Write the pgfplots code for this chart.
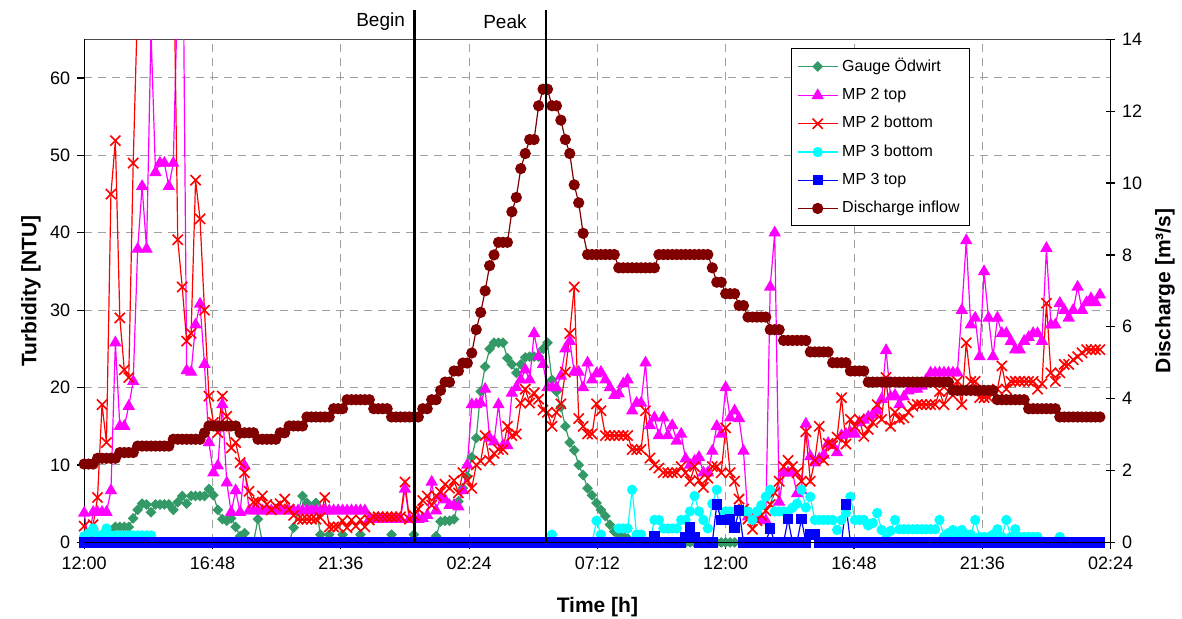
\documentclass[border=0pt]{standalone}
\usepackage{fontspec}
\setmainfont{Liberation Sans}
\usepackage{pgfplots}
\usepackage{pgfplotstable}
\pgfplotsset{compat=1.18}
\definecolor{cGauge}{RGB}{51,153,102}
\definecolor{cMag}{RGB}{255,0,255}
\definecolor{cRed}{RGB}{255,0,0}
\definecolor{cCyan}{RGB}{0,255,255}
\definecolor{cBlue}{RGB}{0,0,255}
\definecolor{cMaroon}{RGB}{128,0,0}
\pgfplotsset{
 sG/.style={color=cGauge, line width=0.6pt, mark=square*, mark size=1.6pt, mark options={rotate=45, solid, fill=cGauge}},
 sT2/.style={color=cMag, line width=0.6pt, mark=triangle*, mark size=3pt, mark options={solid, fill=cMag}},
 sB2/.style={color=cRed, line width=0.6pt, mark=x, mark size=3.6pt, mark options={solid, line width=0.8pt}},
 sB3/.style={color=cCyan, line width=0.6pt, mark=*, mark size=2.25pt, mark options={solid, fill=cCyan}},
 sT3/.style={color=cBlue, line width=0.6pt, mark=square*, mark size=2.3pt, mark options={solid, fill=cBlue}},
 sQ/.style={color=cMaroon, line width=0.6pt, mark=*, mark size=2.5pt, mark options={solid, fill=cMaroon}},
}
% one value every 10 minutes, starting 12:00 (x = index/6 hours)
\pgfplotstableread[header=false,row sep=\\]{
2.18\\2.18\\2.18\\2.34\\2.34\\2.34\\2.34\\2.34\\2.50\\2.50\\
2.50\\2.50\\2.68\\2.68\\2.68\\2.68\\2.68\\2.68\\2.68\\2.68\\
2.87\\2.87\\2.87\\2.87\\2.87\\2.87\\2.87\\3.05\\3.24\\3.24\\
3.24\\3.24\\3.24\\3.24\\3.24\\3.05\\3.05\\3.05\\3.05\\2.87\\
2.87\\2.87\\2.87\\2.87\\3.05\\3.05\\3.24\\3.24\\3.24\\3.24\\
3.49\\3.49\\3.49\\3.49\\3.49\\3.49\\3.72\\3.72\\3.72\\3.97\\
3.97\\3.97\\3.97\\3.97\\3.97\\3.72\\3.72\\3.72\\3.72\\3.49\\
3.49\\3.49\\3.49\\3.49\\3.49\\3.49\\3.72\\3.72\\3.97\\3.97\\
4.23\\4.46\\4.46\\4.77\\4.77\\4.99\\4.99\\5.27\\5.92\\6.4\\
7.0\\7.7\\8.0\\8.35\\8.35\\8.35\\9.2\\9.6\\10.4\\10.82\\
11.21\\11.21\\12.15\\12.61\\12.61\\12.15\\12.15\\11.75\\11.21\\10.82\\
9.95\\9.45\\8.6\\8.01\\8.01\\8.01\\8.01\\8.01\\8.01\\8.01\\
7.64\\7.64\\7.64\\7.64\\7.64\\7.64\\7.64\\7.64\\7.64\\8.01\\
8.01\\8.01\\8.01\\8.01\\8.01\\8.01\\8.01\\8.01\\8.01\\8.01\\
8.01\\7.64\\7.24\\7.24\\6.92\\6.92\\6.92\\6.59\\6.59\\6.27\\
6.27\\6.27\\6.27\\6.27\\5.92\\5.92\\5.92\\5.62\\5.62\\5.62\\
5.62\\5.62\\5.62\\5.30\\5.30\\5.30\\5.30\\5.30\\5.00\\5.00\\
5.00\\5.00\\4.77\\4.77\\4.77\\4.77\\4.46\\4.46\\4.46\\4.46\\
4.46\\4.46\\4.46\\4.46\\4.46\\4.46\\4.46\\4.46\\4.46\\4.46\\
4.46\\4.46\\4.46\\4.46\\4.46\\4.23\\4.23\\4.23\\4.23\\4.23\\
4.23\\4.23\\4.23\\4.23\\4.23\\3.97\\3.97\\3.97\\3.97\\3.97\\
3.97\\3.97\\3.72\\3.72\\3.72\\3.72\\3.72\\3.72\\3.72\\3.49\\
3.49\\3.49\\3.49\\3.49\\3.49\\3.49\\3.49\\3.49\\3.49\\
}\tQ
\pgfplotstableread[header=false,row sep=\\]{
0\\0\\0\\0\\0\\0.5\\1.5\\2.0\\2.0\\2.0\\
2.0\\3.1\\4.2\\5.0\\4.9\\3.9\\4.9\\4.9\\4.9\\4.9\\
4.2\\5.2\\6.0\\5.0\\6.0\\6.0\\6.0\\6.0\\6.9\\6.1\\
4.2\\3.0\\2.8\\3.1\\2.0\\0.8\\1.2\\0\\0\\3.0\\
0\\0\\0\\0\\0\\0\\0\\1.9\\4.0\\6.0\\
5.1\\4.2\\5.1\\1.0\\0\\1.0\\0\\0\\1.0\\0\\
0\\0\\1.0\\0\\0\\0\\0\\0\\0\\1.0\\
0\\0\\0\\0\\1.0\\0\\0\\0\\0\\0.8\\
2.7\\2.8\\2.8\\3.0\\5.3\\7.0\\8.5\\11.0\\13.5\\19.5\\
22.7\\25.0\\25.8\\25.8\\25.8\\23.8\\23.0\\21.9\\23.0\\23.9\\
24.0\\24.0\\24.0\\25.0\\25.8\\21.0\\19.5\\17.5\\15.0\\12.9\\
11.9\\10.0\\8.7\\7.0\\6.1\\5.1\\4.2\\3.4\\2.3\\1.4\\
1.0\\0.8\\0.5\\0\\0\\0\\0\\0\\0\\0\\
0\\0\\0\\0\\0\\0\\0\\0\\0\\0\\
0\\0\\0\\0\\0\\0\\0\\
}\tG
\pgfplotstableread[header=false,row sep=\\]{
3.8\\0\\3.9\\3.9\\3.9\\3.9\\6.7\\25.8\\15\\15\\
17.6\\20.8\\37.9\\46\\37.9\\66\\47.8\\49\\49\\46\\
49\\72\\90\\22.2\\22.0\\28.1\\30.8\\23\\12.9\\9.0\\
9.9\\17.8\\7.7\\3.9\\6.7\\3.9\\9.9\\4.1\\4.1\\4.1\\
4.1\\4.1\\4.1\\4.1\\4.1\\4.1\\4.1\\4.1\\4.1\\4.1\\
4.1\\4.1\\4.1\\4.1\\4.1\\4.1\\4.1\\4.1\\4.1\\4.1\\
4.1\\4.1\\4.1\\4.1\\3.0\\3.0\\3.0\\3.0\\3.0\\3.0\\
3.0\\3.0\\6.9\\3.0\\3.0\\3.0\\3.1\\3.5\\7.8\\4.1\\
6.0\\5.5\\4.8\\4.8\\4.6\\6.7\\10.0\\17.8\\17.8\\18.0\\
19.8\\13.5\\13.0\\17.8\\12.5\\12.5\\19.3\\20.0\\21.0\\22.3\\
21.0\\27.0\\24.0\\23.0\\20.0\\20.0\\20.0\\21.5\\25.0\\26.0\\
22.0\\22.0\\20.0\\23.2\\21.0\\21.8\\22.0\\21.0\\20.0\\19.0\\
19.2\\20.5\\21.0\\17.0\\18.0\\18.0\\23.2\\15.1\\16.1\\13.8\\
16.1\\13.8\\15.1\\13.1\\14.0\\10.8\\10.0\\10.5\\11.0\\9.0\\
9.0\\11.8\\15.0\\14.0\\20.0\\16.1\\17.0\\16.0\\11.8\\3.3\\
3.3\\3.3\\3.0\\2.8\\33.0\\40.0\\5.2\\9.0\\9.0\\9.0\\
6.3\\6.7\\15.3\\11.1\\10.3\\10.8\\11.3\\12.8\\12.5\\11.6\\
13.8\\14.0\\14.2\\14.0\\15.5\\15.8\\16.2\\16.5\\17.0\\18.5\\
24.8\\18.8\\19.0\\17.8\\18.8\\19.6\\19.8\\19.8\\20.2\\21.0\\
21.9\\21.9\\21.9\\21.9\\21.9\\21.9\\21.9\\30\\39\\28.1\\
29\\24\\35\\29\\24\\29\\27\\27\\26\\24.9\\
24.9\\26\\26.5\\27\\27\\26\\38\\28.1\\28.1\\30.9\\
30\\29\\30\\33\\30\\31\\31.5\\31\\32\\
}\tTtwo
\pgfplotstableread[header=false,row sep=\\]{
2.1\\0.2\\2.3\\5.8\\17.8\\12.9\\45\\51.9\\29\\22.3\\
21.3\\49\\70\\100\\100\\100\\100\\100\\100\\100\\
80\\39.1\\33.0\\26.0\\27.0\\46.8\\41.8\\30.0\\18.9\\15.5\\
14.2\\18.9\\16.3\\12.2\\12.9\\10.3\\9.0\\6.6\\5.2\\5.2\\
6.0\\4.9\\4.2\\4.7\\5.0\\5.6\\4.3\\3.5\\3.0\\3.0\\
3.0\\3.0\\3.0\\3.2\\5.8\\2.0\\2.0\\2.0\\2.8\\1.9\\
2.9\\2.1\\2.9\\2.0\\2.9\\3.3\\3.3\\3.3\\3.3\\3.3\\
3.3\\3.3\\7.8\\3.0\\3.5\\4.3\\5.4\\6.0\\4.8\\6.0\\
6.5\\7.5\\7.0\\8.0\\6.4\\9.0\\8.0\\7.0\\10.0\\10.5\\
13.8\\10.6\\11.5\\12.0\\12.0\\15.0\\13.8\\14.0\\18.0\\19.8\\
18.0\\19.3\\18.5\\17.1\\16.8\\15.0\\16.8\\17.9\\22.0\\27.0\\
33.0\\16.0\\15.0\\14.0\\14.0\\17.9\\17.0\\13.8\\13.8\\13.8\\
13.8\\13.8\\13.8\\12.0\\12.0\\12.0\\17.0\\10.9\\10.0\\9.6\\
9.0\\9.0\\9.0\\9.0\\9.8\\9.0\\7.9\\9.8\\8.0\\7.1\\
8.3\\9.8\\9.8\\9.0\\14.8\\9.0\\7.9\\5.6\\4.3\\3.0\\
1.7\\2.8\\3.5\\4.1\\4.9\\6.4\\7.9\\9.8\\10.6\\9.8\\
9.0\\7.9\\14.3\\7.9\\10.6\\15.0\\10.6\\12.8\\12.5\\13.6\\
18.7\\12.7\\15.9\\15.0\\15.9\\13.7\\14.6\\15.5\\17.8\\15.9\\
21.3\\15.0\\16.8\\15.9\\16.1\\16.8\\17.6\\17.8\\17.8\\17.8\\
17.8\\17.8\\19.5\\17.8\\19.5\\19.0\\20.8\\17.8\\25.8\\20.8\\
20.8\\18.7\\18.7\\18.7\\19.2\\19.8\\22.8\\19.8\\20.8\\20.8\\
20.8\\20.8\\20.8\\20.8\\19.8\\20.5\\30.9\\21.9\\20.8\\21.9\\
23.0\\23.0\\23.6\\24.0\\24.5\\24.9\\24.9\\24.9\\24.9\\
}\tBtwo
\pgfplotstableread[header=false,row sep=\\]{
0.8\\1.2\\1.8\\0.9\\1.0\\1.8\\0.9\\0.9\\0.9\\0.9\\
0.9\\0.9\\0.9\\0.9\\0.9\\0.9\\0\\0\\0\\0\\
0\\0\\0\\0\\0\\0\\0\\0\\0\\0\\
0\\0\\0\\0\\0\\0\\0\\0\\0\\0\\
0\\0\\0\\0\\0\\0\\0\\0\\0\\0\\
0\\0\\0\\0\\0\\0\\0\\0\\0\\0\\
0\\0\\0\\0\\0\\0\\0\\0\\0\\0\\
0\\0\\0\\0\\0\\0\\0\\0\\0\\0\\
0\\0\\0\\0\\0\\0\\0\\0\\0\\0\\
0\\0\\0\\0\\0\\0\\0\\0\\0\\0\\
0\\0\\0\\0\\0\\1.0\\0\\0\\0\\0\\
0\\0\\0\\0\\0\\2.8\\1.0\\0\\0\\0\\
1.8\\1.8\\1.8\\6.8\\1.0\\1.0\\0\\0\\2.9\\2.9\\
1.8\\1.8\\1.8\\1.8\\2.9\\2.9\\4.0\\6.0\\4.0\\2.9\\
1.8\\5.0\\6.8\\2.9\\4.0\\4.0\\4.0\\4.0\\4.0\\4.0\\
2.9\\4.0\\4.8\\5.9\\6.8\\4.0\\4.0\\4.0\\4.0\\4.5\\
5.0\\6.8\\4.5\\5.9\\2.9\\2.9\\2.9\\2.9\\2.9\\1.6\\
2.9\\3.8\\5.9\\2.9\\2.9\\2.9\\2.2\\2.5\\3.8\\1.6\\
0.5\\1.5\\2.9\\1.7\\1.7\\1.7\\1.7\\1.7\\1.7\\1.7\\
1.7\\1.7\\2.9\\0.7\\1.2\\1.6\\0.7\\1.6\\1.0\\1.0\\
2.9\\0.7\\0.7\\0.7\\1.0\\1.7\\0.7\\2.9\\0.7\\1.7\\
0.7\\0.7\\0.7\\0.7\\0.7\\0\\0\\0\\0\\0.7\\
0\\0\\0\\0\\0\\0\\0\\0\\0\\
}\tBthree
\pgfplotstableread[header=false,row sep=\\]{
0\\0\\0\\0\\0\\0\\0\\0\\0\\0\\
0\\0\\0\\0\\0\\0\\0\\0\\0\\0\\
0\\0\\0\\0\\0\\0\\0\\0\\0\\0\\
0\\0\\0\\0\\0\\0\\0\\0\\0\\0\\
0\\0\\0\\0\\0\\0\\0\\0\\0\\0\\
0\\0\\0\\0\\0\\0\\0\\0\\0\\0\\
0\\0\\0\\0\\0\\0\\0\\0\\0\\0\\
0\\0\\0\\0\\0\\0\\0\\0\\0\\0\\
0\\0\\0\\0\\0\\0\\0\\0\\0\\0\\
0\\0\\0\\0\\0\\0\\0\\0\\0\\0\\
0\\0\\0\\0\\0\\0\\0\\0\\0\\0\\
0\\0\\0\\0\\0\\0\\0\\0\\0\\0\\
0\\0\\0\\0\\0\\0\\0\\0\\0.8\\0\\
0\\0\\0\\0\\0\\0.7\\1.9\\0.7\\0\\0\\
0\\0\\4.9\\2.9\\2.9\\3.0\\1.9\\4.1\\0\\0\\
0\\0\\0\\0\\1.8\\0\\0\\0\\3.0\\0\\
0\\3.0\\0\\1.0\\1.0\\0\\0\\0\\0\\0\\
0\\4.9\\0\\0\\0\\0\\0\\0\\0\\0\\
0\\0\\0\\0\\0\\0\\0\\0\\0\\0\\
0\\0\\0\\0\\0\\0\\0\\0\\0\\0\\
0\\0\\0\\0\\0\\0\\0\\0\\0\\0\\
0\\0\\0\\0\\0\\0\\0\\0\\0\\0\\
0\\0\\0\\0\\0\\0\\0\\0\\0\\
}\tTthree
\begin{document}
\begin{tikzpicture}
\path[use as bounding box] (0,0) rectangle (591pt,309.5pt);
\begin{axis}[
  at={(42.1pt,38.3pt)}, anchor=south west,
  width=513.2pt, height=251.55pt, scale only axis,
  xmin=0, xmax=38.4, ymin=0, ymax=65,
  xtick={0,4.8,9.6,14.4,19.2,24,28.8,33.6,38.4},
  xticklabels={12:00,16:48,21:36,02:24,07:12,12:00,16:48,21:36,02:24},
  ytick={0,10,20,30,40,50,60},
  xtick pos=left, ytick pos=left, tick align=outside,
  major tick length=3.5pt,
  grid=major,
  major grid style={gray!75, dash pattern=on 4pt off 3pt, line width=0.5pt},
  separate axis lines,
  every outer x axis line/.append style={black!70, line width=0.6pt},
  every outer y axis line/.append style={black, line width=0.6pt},
  tick style={black, line width=0.6pt},
  ticklabel style={font=\fontsize{9}{10}\selectfont},
  /pgf/number format/assume math mode=true,
  xlabel={Time [h]}, ylabel={Turbidity [NTU]},
  label style={font=\fontsize{10.5}{12}\selectfont\bfseries},
  xlabel style={at={(axis description cs:0.5,-0.128)}, anchor=center},
  ylabel style={at={(axis description cs:-0.052,0.5)}, anchor=center},
]
\addplot[sG] table[x expr=\coordindex/6, y index=0]{\tG};
\addplot[sT2] table[x expr=\coordindex/6, y index=0]{\tTtwo};
\addplot[sB2] table[x expr=\coordindex/6, y index=0]{\tBtwo};
\addplot[sB3] table[x expr=\coordindex/6, y index=0]{\tBthree};
\addplot[sT3] table[x expr=\coordindex/6, y index=0]{\tTthree};
\coordinate (B0) at (axis cs:12.35,0);
\coordinate (B1) at (axis cs:12.35,68.8);
\coordinate (BT) at (axis cs:12.35,67.3);
\coordinate (P0) at (axis cs:17.27,0);
\coordinate (P1) at (axis cs:17.27,68.8);
\coordinate (PT) at (axis cs:17.27,67.3);
\coordinate (XL) at (axis cs:0,0);
\coordinate (XR) at (axis cs:38.4,0);
\end{axis}
\begin{axis}[
  at={(42.1pt,38.3pt)}, anchor=south west,
  width=513.2pt, height=251.55pt, scale only axis,
  xmin=0, xmax=38.4, ymin=0, ymax=14,
  axis x line=none, axis y line*=right,
  ytick={0,2,4,6,8,10,12,14},
  tick align=center, major tick length=4.4pt,
  axis line style={black, line width=0.6pt},
  tick style={black, line width=0.6pt},
  ticklabel style={font=\fontsize{9}{10}\selectfont},
  /pgf/number format/assume math mode=true,
  ylabel={Discharge [m³/s]},
  ylabel style={font=\fontsize{10.5}{12}\selectfont\bfseries, at={(axis description cs:1.053,0.5)}, anchor=center},
  legend style={at={(0.863,0.983)}, anchor=north east, font=\fontsize{8}{9.5}\selectfont,
    draw=black, fill=white, row sep=2.9pt, inner xsep=3pt, inner ysep=3pt},
  legend cell align=left,
  legend image code/.code={\draw[mark repeat=2,mark phase=2,#1] plot coordinates {(0cm,0cm) (0.35cm,0cm) (0.7cm,0cm)};},
]
\addlegendimage{sG}\addlegendentry{Gauge Ödwirt}
\addlegendimage{sT2}\addlegendentry{MP 2 top}
\addlegendimage{sB2}\addlegendentry{MP 2 bottom}
\addlegendimage{sB3}\addlegendentry{MP 3 bottom}
\addlegendimage{sT3}\addlegendentry{MP 3 top}
\addplot[sQ] table[x expr=\coordindex/6, y index=0]{\tQ};
\addlegendentry{Discharge inflow}
\end{axis}
\draw[black, line width=0.6pt] (XL) -- (XR);
\draw[black, line width=1.2pt] (B0) -- (B1);
\draw[black, line width=1.2pt] (P0) -- (P1);
\node[anchor=east, inner sep=0pt, font=\fontsize{9.5}{11}\selectfont] at ([xshift=-4.5pt]BT) {Begin};
\node[anchor=east, inner sep=0pt, font=\fontsize{9.5}{11}\selectfont] at ([xshift=-9.4pt]PT) {Peak};
\end{tikzpicture}
\end{document}
